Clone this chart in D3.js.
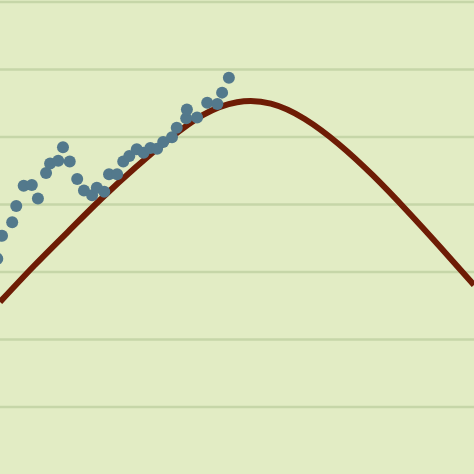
<!doctype html>
<html lang="en">
<head>
    <meta charset="UTF-8">
    <title>Chart</title>
    <style>
      html, body { margin: 0; padding: 0; background: #e2ecc4; }
      svg { display: block; }
    </style>
</head>
<body>
<div class="container"></div>

<script src="https://d3js.org/d3.v7.min.js"></script>

<script>
  // observed points (index, value)
  const pointX = [-0.4, 0.3, 1.8, 2.4, 3.5, 4.7, 5.6, 6.8, 7.4, 8.6, 9.3, 10.3, 11.4, 12.4, 13.6,
    14.3, 15.4, 16.1, 17.3, 18.2, 19.1, 20.2, 21.2, 22.2, 23.2, 24.1, 25.4, 26.1, 27.5, 27.6,
    29.1, 30.6, 32.1, 32.8, 33.8];
  const pointY = [21.9, 25.3, 27.3, 29.7, 32.7, 32.8, 30.8, 34.6, 36.0, 36.4, 38.4, 36.3, 33.7, 32.0, 31.3,
    32.4, 31.8, 34.4, 34.4, 36.3, 37.1, 38.1, 37.6, 38.3, 38.2, 39.2, 39.9, 41.3, 42.7, 44.0,
    42.8, 45.0, 44.8, 46.5, 48.7];

  // fitted curve samples
  const curveX = [0, 5, 10, 15, 20, 25, 30, 35, 40, 45, 50, 55, 60, 65, 70];
  const curveY = [15.48, 20.81, 25.85, 30.81, 35.41, 39.63, 43.19, 45.07, 44.86, 42.59, 38.89, 34.30, 29.11, 23.63, 18.00];

  const gridTicks = [0, 10, 20, 30, 40, 50, 60];

  const SVG_WIDTH = 474;
  const SVG_HEIGHT = 474;

  const svg = d3.select('.container')
    .append('svg')
    .attr('width', SVG_WIDTH)
    .attr('height', SVG_HEIGHT);

  svg.append('rect')
    .attr('width', SVG_WIDTH)
    .attr('height', SVG_HEIGHT)
    .attr('fill', '#e2ecc4');

  const x = d3.scaleLinear()
    .domain([0, 70])
    .range([0, SVG_WIDTH]);

  const y = d3.scaleLinear()
    .domain([-10, 60])
    .range([SVG_HEIGHT, 1.5]);

  // horizontal gridlines
  const grid = svg.append('g')
    .call(d3.axisLeft(y).tickValues(gridTicks).tickSize(-SVG_WIDTH).tickFormat(''));
  grid.select('.domain').remove();
  grid.selectAll('line')
    .attr('stroke', '#c6d6a8')
    .attr('stroke-width', 2.5);

  const line = d3.line()
    .x(d => x(d[0]))
    .y(d => y(d[1]))
    .curve(d3.curveNatural);

  svg.append('path')
    .datum(d3.zip(curveX, curveY))
    .attr('d', line)
    .attr('fill', 'none')
    .attr('stroke', '#6e1c05')
    .attr('stroke-width', 6);

  svg.selectAll('circle')
    .data(d3.zip(pointX, pointY))
    .enter().append('circle')
    .attr('cx', d => x(d[0]))
    .attr('cy', d => y(d[1]))
    .attr('r', 6)
    .attr('fill', '#53798c');
</script>
</body>
</html>
